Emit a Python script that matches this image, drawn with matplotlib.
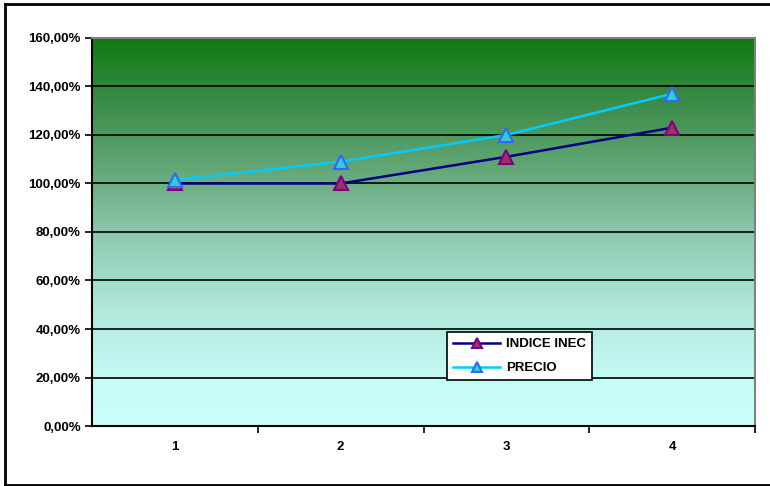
import matplotlib.pyplot as plt
import numpy as np
from matplotlib.colors import LinearSegmentedColormap

# Index series (percent) for four periods
periodos = [1, 2, 3, 4]
indice_inec = [100.0, 100.0, 111.0, 123.0]
precio = [101.5, 109.0, 120.0, 137.0]
yticks = [0, 20, 40, 60, 80, 100, 120, 140, 160]

fig = plt.figure(figsize=(7.7, 4.86), dpi=100)

# outer chart frame (open on the right side)
for xs, ys in [([0.006, 1.0], [0.992, 0.992]),
               ([0.006, 0.006], [0.003, 0.992]),
               ([0.006, 1.0], [0.003, 0.003])]:
    fig.add_artist(plt.Line2D(xs, ys, color='k', lw=2, transform=fig.transFigure))

ax = fig.add_axes([92/770, 1-426/486, (755-92)/770, (426-38)/486])
ax.set_xlim(0.5, 4.5)
ax.set_ylim(0, 160)

# background gradient, light cyan at the bottom to dark green at the top
cmap = LinearSegmentedColormap.from_list('fondo', [
    (0.0, '#ccffff'), (0.12, '#c6fbf6'), (0.3, '#b0e8dc'),
    (0.5, '#8cc8ac'), (0.65, '#66a97a'), (0.82, '#3e8e4c'), (1.0, '#0e7a10')])
grad = np.linspace(0, 1, 256).reshape(-1, 1)
ax.imshow(grad, cmap=cmap, origin='lower', aspect='auto',
          extent=[0.5, 4.5, 0, 160], zorder=0)

for y in yticks[1:-1]:
    ax.axhline(y, color='k', lw=1.2, zorder=1)

ax.plot(periodos, indice_inec, color='#000080', lw=1.8, marker='^', ms=10,
        markerfacecolor='#993366', markeredgecolor='#800080', markeredgewidth=1.5,
        label='INDICE INEC', zorder=3)
ax.plot(periodos, precio, color='#00ccff', lw=1.8, marker='^', ms=10,
        markerfacecolor='#33cccc', markeredgecolor='#3366ff', markeredgewidth=1.5,
        label='PRECIO', zorder=4)

ax.set_yticks(yticks)
ax.set_yticklabels(['{:.2f}%'.format(v).replace('.', ',') for v in yticks])
ax.set_xticks([1.5, 2.5, 3.5, 4.5], minor=False)
ax.set_xticklabels([])
ax.tick_params(axis='x', which='major', direction='out', length=5, width=1.2)
ax.set_xticks(periodos, minor=True)
ax.set_xticklabels([str(p) for p in periodos], minor=True)
ax.tick_params(axis='x', which='minor', length=0, pad=11)
ax.tick_params(axis='y', direction='out', length=5, width=1.2, pad=3)
for lab in ax.get_yticklabels() + ax.get_xticklabels(minor=True):
    lab.set_fontsize(9.5)
    lab.set_fontweight('bold')
    lab.set_fontfamily('Liberation Sans')

for s in ['left', 'bottom']:
    ax.spines[s].set_color('k')
    ax.spines[s].set_linewidth(1.5)
for s in ['top', 'right']:
    ax.spines[s].set_color('#808080')
    ax.spines[s].set_linewidth(1.5)

leg = ax.legend(loc='upper left', bbox_to_anchor=((447-92)/663, (426-332)/388),
                frameon=True, fancybox=False, edgecolor='k', facecolor='white',
                framealpha=1, borderpad=0.45, handlelength=3.6, handletextpad=0.4,
                labelspacing=0.9, markerscale=0.75, borderaxespad=0,
                prop={'family': 'Liberation Sans', 'weight': 'bold', 'size': 9.5})
leg.get_frame().set_linewidth(1.2)

fig.savefig('out.png', dpi=100)
